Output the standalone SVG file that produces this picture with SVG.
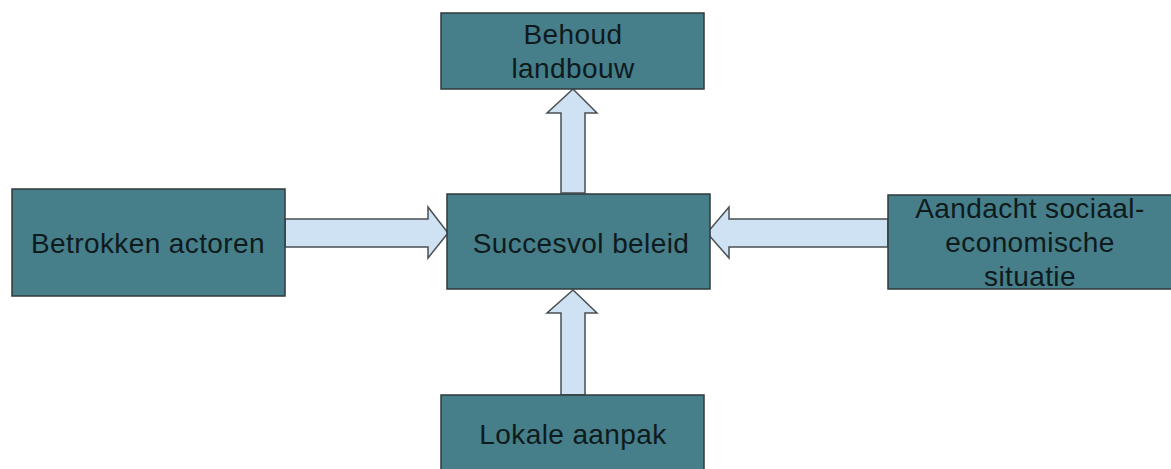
<svg xmlns="http://www.w3.org/2000/svg" width="1171" height="469" viewBox="0 0 1171 469">
<style>
.box{fill:#467e8a;stroke:#2f3a3c;stroke-width:1.5}
.arr{fill:#cfe2f3;stroke:#4a4f52;stroke-width:1.5;stroke-linejoin:miter}
.t{font-family:"Liberation Sans",Arial,sans-serif;font-size:28px;fill:#0f1a1c;text-anchor:middle;letter-spacing:0.4px}
</style>
<rect width="1171" height="469" fill="#ffffff"/>
<g id="connectors">
<polygon class="arr" points="561,193 561,113 547,113 573,89 597,113 585,113 585,193"/>
<polygon class="arr" points="561,395 561,313 547,313 573,290 597,313 585,313 585,395"/>
<polygon class="arr" points="285,219 428,219 428,207 448,233 428,258 428,247 285,247"/>
<polygon class="arr" points="888,219 729,219 729,207 707,233 729,258 729,247 888,247"/>
</g>
<g id="node-behoud">
<rect class="box" x="441" y="13" width="263" height="76"/>
<text class="t" x="573" y="44">Behoud</text>
<text class="t" x="573" y="78">landbouw</text>
</g>
<g id="node-succesvol">
<rect class="box" x="447" y="194" width="263" height="95"/>
<text class="t" x="581" y="253">Succesvol beleid</text>
</g>
<g id="node-betrokken">
<rect class="box" x="12" y="189" width="273" height="107"/>
<text class="t" x="148" y="253">Betrokken actoren</text>
</g>
<g id="node-aandacht">
<rect class="box" x="888" y="195" width="290" height="94"/>
<text class="t" x="1030" y="218">Aandacht sociaal-</text>
<text class="t" x="1030" y="252">economische</text>
<text class="t" x="1030" y="286">situatie</text>
</g>
<g id="node-lokale">
<rect class="box" x="441" y="395" width="263" height="80"/>
<text class="t" x="573" y="444">Lokale aanpak</text>
</g>
</svg>
